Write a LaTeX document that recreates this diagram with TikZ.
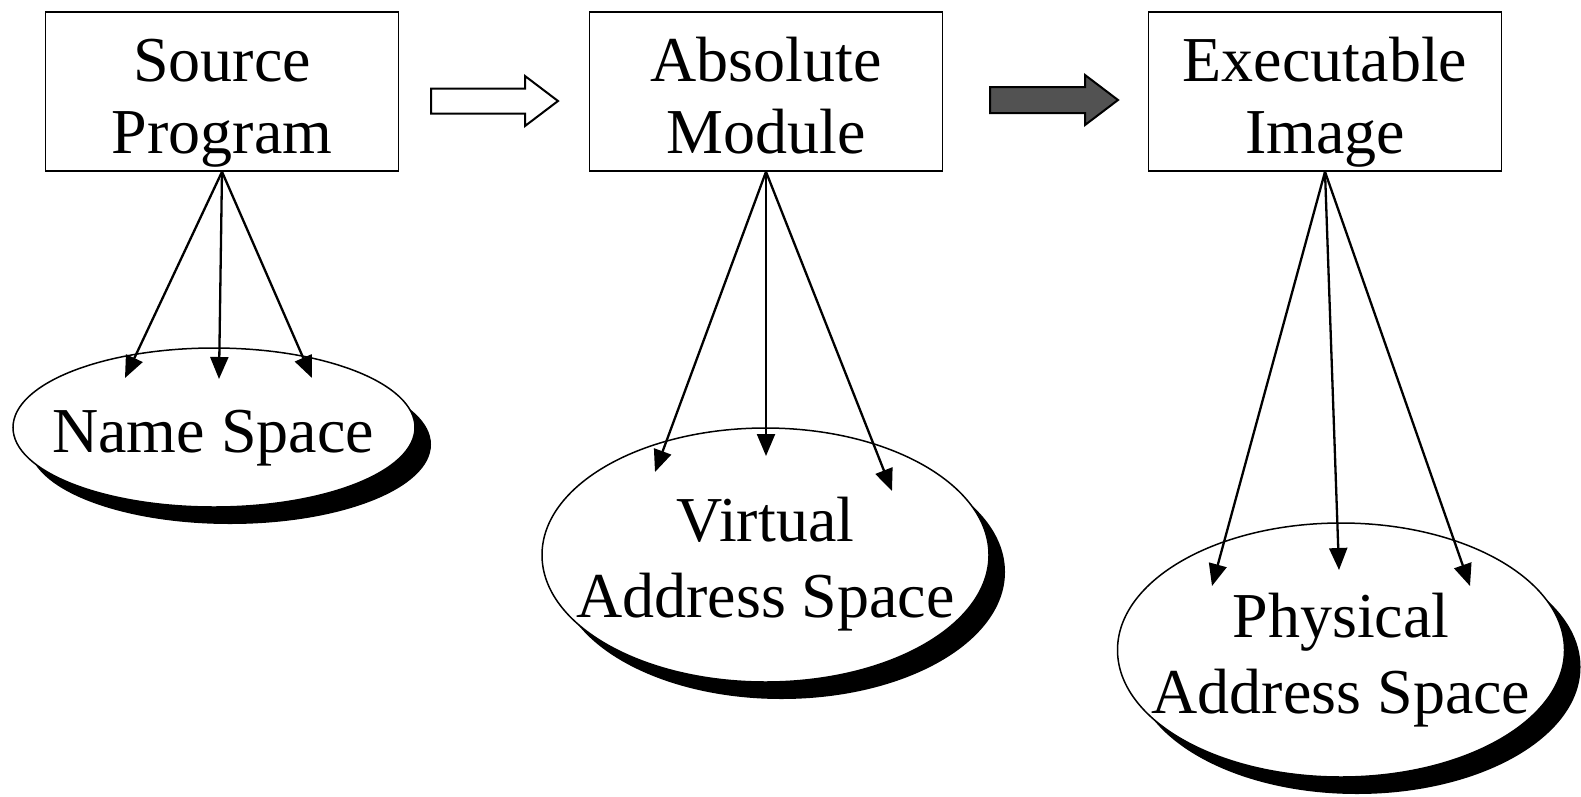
\documentclass[tikz,border=0pt]{standalone}
\usepackage{fontspec}
\setmainfont{Liberation Serif}
\usetikzlibrary{arrows.meta,shapes.geometric,shadows}
\begin{document}
\begin{tikzpicture}[x=1pt,y=-1pt,
  bigtext/.style={font=\fontsize{64}{76}\selectfont, align=center, inner sep=0pt, anchor=base},
  boxtext/.style={bigtext, font=\fontsize{64}{72}\selectfont},
  stagebox/.style={draw, line width=1.5pt, minimum width=353pt, minimum height=159pt, inner sep=0pt},
  spaceoval/.style={ellipse, draw, line width=1.5pt, fill=white, inner sep=0pt,
    general shadow={shadow xshift=16pt, shadow yshift=-17pt, fill=black}},
  ptr/.style={line width=2.3pt, -{Triangle[length=22pt,width=18pt]}},
  blockarrow/.style={draw, line width=2pt, line join=miter}
]
\useasboundingbox (0,0) rectangle (1581,796);

% stages
\node[stagebox] (src) at (222,91.5) {};
\node[stagebox] (abs) at (766,91.5) {};
\node[stagebox] (exe) at (1325,91.5) {};
\node[boxtext] at (222,153) {Source\\Program};
\node[boxtext] at (766,153) {Absolute\\Module};
\node[boxtext] at (1325,153) {Executable\\Image};

% transitions between stages
\coordinate (a1) at (431,101);
\coordinate (a2) at (990,100);
\draw[blockarrow, fill=white] (a1) ++(0,-12.5) -- ++(94,0) -- ++(0,-12.5) -- ++(33,25)
  -- ++(-33,25) -- ++(0,-12.5) -- ++(-94,0) -- cycle;
\draw[blockarrow, fill=black!68] (a2) ++(0,-13) -- ++(95,0) -- ++(0,-12) -- ++(33,25)
  -- ++(-33,25) -- ++(0,-12) -- ++(-95,0) -- cycle;

% address spaces, each with a drop shadow
\node[spaceoval, minimum width=402pt, minimum height=159pt] (ns) at (214,427.5) {};
\node[spaceoval, minimum width=447pt, minimum height=254pt] (vas) at (765.5,555) {};
\node[spaceoval, minimum width=447pt, minimum height=254pt] (pas) at (1341,650) {};
\node[bigtext] at (213,452) {Name Space};
\node[bigtext] at (765.5,617) {Virtual\\Address Space};
\node[bigtext] at (1341,713) {Physical\\Address Space};

% targets inside the spaces
\coordinate (n1) at (125,378);
\coordinate (n2) at (219,379);
\coordinate (n3) at (312,378);
\coordinate (v1) at (655,472);
\coordinate (v2) at (766,456);
\coordinate (v3) at (892,491);
\coordinate (p1) at (1212,586);
\coordinate (p2) at (1339,570);
\coordinate (p3) at (1470,586);

\foreach \t in {n1,n2,n3} \draw[ptr] (src.south) -- (\t);
\foreach \t in {v1,v2,v3} \draw[ptr] (abs.south) -- (\t);
\foreach \t in {p1,p2,p3} \draw[ptr] (exe.south) -- (\t);
\end{tikzpicture}
\end{document}
